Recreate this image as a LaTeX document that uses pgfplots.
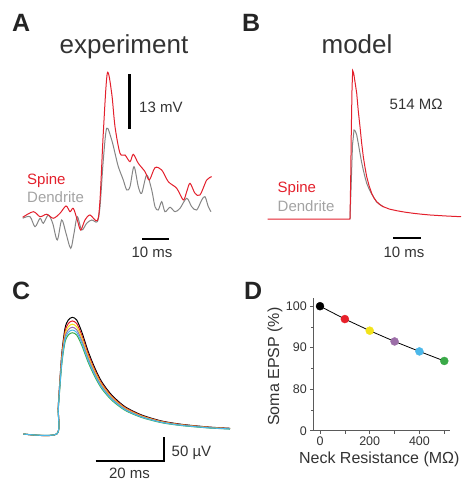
\documentclass[border=0pt]{standalone}
\usepackage{pgfplots}
\pgfplotsset{compat=1.18}
\usepackage{fontspec}
\setmainfont{Liberation Sans}
\definecolor{spinered}{HTML}{E3202C}
\definecolor{dendgray}{HTML}{858585}
\definecolor{labgray}{HTML}{A3A3A3}
\definecolor{axgray}{HTML}{5A5A5A}
\definecolor{txtgray}{HTML}{333333}
\definecolor{cred}{HTML}{E8202A}
\definecolor{cyellow}{HTML}{F2E31A}
\definecolor{cpurple}{HTML}{9C6EA8}
\definecolor{cblue}{HTML}{4BB8EA}
\definecolor{cgreen}{HTML}{3AA948}
\newcommand\fs[1]{\fontsize{#1}{#1}\selectfont}

\begin{document}
\begin{tikzpicture}
\useasboundingbox (0pt,0pt) rectangle (461pt,481pt);

% ---------- A: experiment ----------
\begin{axis}[at={(20pt,221pt)},anchor=south west,scale only axis,
  width=195pt,height=200pt,xmin=0,xmax=72.22,ymin=-10.64,ymax=36.64,
  hide axis,clip=false]
\addplot[dendgray,line width=1pt,smooth,tension=0.5] coordinates {
 (1.0,-0.78)(3.70,-0.40)(5.56,-2.77)(7.41,-0.78)(8.63,-1.96)(10.48,0)
 (12.11,-1.96)(13.81,-5.91)(15.44,-1.18)(17.04,-4.33)(18.78,-7.87)(20.0,-4.33)
 (21.22,-0.40)(22.85,-3.55)(24.70,-1.96)(26.56,-1.18)(28.63,-1.58)(29.63,1.96)
 (30.85,13.0)(32.11,20.50)(33.96,17.73)(35.19,14.59)(36.41,11.42)(38.26,8.27)
 (39.52,5.91)(40.74,6.69)(42.22,11.42)(43.81,6.69)(45.07,5.13)(46.93,9.46)
 (48.78,5.91)(50.0,1.96)(51.22,1.18)(52.48,3.14)(53.70,0.78)(55.56,1.82)
 (57.41,0.78)(59.26,1.58)(61.74,3.95)(63.59,1.96)(65.44,1.18)(67.30,3.55)
 (68.52,4.33)(69.74,1.96)(70.74,0.78)};
\addplot[spinered,line width=1pt,smooth,tension=0.5] coordinates {
 (1.0,-0.54)(4.93,0.78)(7.41,-0.40)(9.89,0.17)(12.33,-0.78)(14.81,0.40)
 (17.04,2.13)(18.52,0.78)(19.74,1.58)(21.22,-1.18)(22.48,-3.55)(24.07,-1.18)
 (25.93,0)(28.63,-1.35)(29.63,3.55)(30.85,19.39)(32.33,33.50)(33.96,28.77)
 (35.19,20.87)(37.04,14.59)(38.89,14.18)(40.74,12.60)(41.96,14.35)(43.81,12.22)
 (46.30,10.24)(47.89,8.27)(50.0,11.18)(52.48,10.64)(54.93,7.87)(58.04,6.31)
 (60.48,3.55)(61.74,5.51)(62.96,7.49)(64.81,5.13)(66.67,4.73)(69.15,8.27)
 (71.0,9.05)};
\draw[black,line width=2.7pt] (axis cs:40.5,20.33) -- (axis cs:40.5,33.33);
\draw[black,line width=2.4pt] (axis cs:45.2,-5.67) -- (axis cs:55.2,-5.67);
\end{axis}

% ---------- B: model ----------
\begin{axis}[at={(230pt,221pt)},anchor=south west,scale only axis,
  width=231pt,height=200pt,xmin=0,xmax=85.56,ymin=-9.69,ymax=37.59,
  hide axis,clip=false]
\addplot[dendgray,line width=1pt] coordinates {
 (44.44,0)(44.81,6.86)(45.37,17.5)(45.93,21.04)(46.4,20.8)(46.93,19.86)
 (47.5,17.9)(48.15,15.53)(48.75,13.4)(49.37,11.58)(50.0,9.9)(50.63,8.44)
 (51.5,7.1)(52.48,5.9)(54.33,4.0)(56.78,2.85)};
\addplot[spinered,line width=1pt] coordinates {
 (13.96,0)(44.44,0)(44.7,9.2)(44.93,21.0)(45.2,31.0)(45.44,35.06)(45.8,34.5)
 (46.3,32.4)(46.93,29.72)(47.5,25.6)(48.15,21.82)(48.75,18.0)(49.37,14.73)
 (50.0,12.2)(50.63,10.0)(51.5,7.9)(52.48,6.08)(53.4,4.9)(54.33,4.09)
 (55.5,3.4)(56.78,2.91)(59.0,2.35)(61.74,1.96)(64.8,1.62)(67.89,1.35)
 (71.0,1.13)(74.07,0.95)(79.8,0.72)(85.56,0.54)};
\draw[black,line width=2.4pt] (axis cs:60.5,-4.56) -- (axis cs:70.6,-4.56);
\end{axis}

% ---------- C: soma EPSPs ----------
\begin{axis}[at={(15pt,11pt)},anchor=south west,scale only axis,
  width=220pt,height=170pt,xmin=0,xmax=64.33,ymin=-73.9,ymax=275.2,
  hide axis,clip=false]
\addplot[black,line width=1pt,smooth,tension=0.45] coordinates {
 (2.43,0)(12.19,0)(12.66,59.5)(13.65,162.2)(14.62,217.0)(15.58,234.1)(16.75,239.6)
 (18.04,234.1)(19.50,210.1)(21.43,169.0)(23.39,134.9)(25.35,107.4)(28.27,80.1)
 (32.16,56.1)(37.05,39.0)(42.89,26.7)(48.74,19.9)(56.52,14.4)(62.87,11.7)};
\addplot[cred,line width=1pt,smooth,tension=0.45] coordinates {
 (2.43,0)(12.19,0)(12.66,57.7)(13.65,157.2)(14.62,210.3)(15.58,226.8)(16.75,232.2)
 (18.04,226.8)(19.50,203.6)(21.43,163.8)(23.39,130.7)(25.35,104.1)(28.27,77.6)
 (32.16,54.4)(37.05,37.8)(42.89,25.9)(48.74,19.3)(56.52,14.0)(62.87,11.3)};
\addplot[cyellow,line width=1pt,smooth,tension=0.45] coordinates {
 (2.43,0)(12.19,0)(12.66,56.0)(13.65,152.6)(14.62,204.2)(15.58,220.3)(16.75,225.5)
 (18.04,220.3)(19.50,197.7)(21.43,159.0)(23.39,126.9)(25.35,101.1)(28.27,75.4)
 (32.16,52.8)(37.05,36.7)(42.89,25.1)(48.74,18.7)(56.52,13.6)(62.87,11.0)};
\addplot[cpurple,line width=1pt,smooth,tension=0.45] coordinates {
 (2.43,0)(12.19,0)(12.66,54.4)(13.65,148.4)(14.62,198.6)(15.58,214.2)(16.75,219.2)
 (18.04,214.2)(19.50,192.2)(21.43,154.6)(23.39,123.4)(25.35,98.3)(28.27,73.3)
 (32.16,51.3)(37.05,35.7)(42.89,24.4)(48.74,18.2)(56.52,13.2)(62.87,10.7)};
\addplot[cgreen,line width=1pt,smooth,tension=0.45] coordinates {
 (2.43,0)(12.19,0)(12.66,51.6)(13.65,140.8)(14.62,188.4)(15.58,203.2)(16.75,208.0)
 (18.04,203.2)(19.50,182.4)(21.43,146.7)(23.39,117.1)(25.35,93.2)(28.27,69.5)
 (32.16,48.7)(37.05,33.9)(42.89,23.2)(48.74,17.3)(56.52,12.5)(62.87,10.2)};
\addplot[cblue,line width=1pt,smooth,tension=0.45] coordinates {
 (2.43,0)(12.19,0)(12.66,53.0)(13.65,144.5)(14.62,193.3)(15.58,208.6)(16.75,213.5)
 (18.04,208.6)(19.50,187.2)(21.43,150.6)(23.39,120.2)(25.35,95.7)(28.27,71.4)
 (32.16,50.0)(37.05,34.7)(42.89,23.8)(48.74,17.7)(56.52,12.8)(62.87,10.4)};
\draw[black,line width=1.3pt] (axis cs:23.6,-55.4) -- (axis cs:43.57,-55.4) -- (axis cs:43.57,-5.4);
\end{axis}

% ---------- D: soma EPSP vs neck resistance ----------
\begin{axis}[at={(313.3pt,50.3pt)},anchor=south west,scale only axis,
  width=136.7pt,height=132.4pt,xmin=-27,xmax=523,ymin=70,ymax=101.9,
  axis lines=left,axis line style={axgray,line width=0.8pt,-},
  xtick={0,100,200,300,400,500},xticklabels={0,,200,,400,},
  ytick={70,80,90,100},yticklabels={0,80,90,100},minor ytick={75,85,95},
  tick align=outside,major tick length=3pt,minor tick length=2pt,
  tick style={axgray,line width=0.7pt},
  /pgf/number format/assume math mode=true,
  ticklabel style={font=\fs{12.5},text=txtgray},
  xlabel={Neck Resistance (MΩ)},ylabel={Soma EPSP (\%)},
  label style={font=\fs{16},text=txtgray},
  xlabel style={at={(axis description cs:0.483,-0.216)},anchor=center},
  ylabel style={at={(axis description cs:-0.280,0.483)},anchor=center},
  clip=false]
\addplot[black,line width=0.8pt] coordinates {
 (0,100)(100,96.9)(200,94.1)(300,91.5)(400,89.1)(500,86.8)};
\addplot[only marks,mark=*,mark size=4pt,black] coordinates {(0,100)};
\addplot[only marks,mark=*,mark size=4pt,draw=cred,fill=cred] coordinates {(100,96.9)};
\addplot[only marks,mark=*,mark size=4pt,draw=cyellow,fill=cyellow] coordinates {(200,94.1)};
\addplot[only marks,mark=*,mark size=4pt,draw=cpurple,fill=cpurple] coordinates {(300,91.5)};
\addplot[only marks,mark=*,mark size=4pt,draw=cblue,fill=cblue] coordinates {(400,89.1)};
\addplot[only marks,mark=*,mark size=4pt,draw=cgreen,fill=cgreen] coordinates {(500,86.8)};
\end{axis}

% ---------- texts ----------
\node[anchor=base west,inner sep=0,font=\fs{25}\bfseries,text=txtgray!70!black] at (12pt,449.3pt) {A};
\node[anchor=base west,inner sep=0,font=\fs{25}\bfseries,text=txtgray!70!black] at (242pt,449.3pt) {B};
\node[anchor=base west,inner sep=0,font=\fs{25}\bfseries,text=txtgray!70!black] at (12pt,181pt) {C};
\node[anchor=base west,inner sep=0,font=\fs{25}\bfseries,text=txtgray!70!black] at (244pt,181pt) {D};
\node[anchor=base,inner sep=0,font=\fs{26},text=txtgray] at (124pt,427.7pt) {experiment};
\node[anchor=base,inner sep=0,font=\fs{26},text=txtgray] at (357pt,427.7pt) {model};
\node[anchor=base west,inner sep=0,font=\fs{15},text=spinered] at (27pt,296.7pt) {Spine};
\node[anchor=base west,inner sep=0,font=\fs{15},text=labgray] at (27pt,278.7pt) {Dendrite};
\node[anchor=base west,inner sep=0,font=\fs{15},text=spinered] at (277.5pt,288pt) {Spine};
\node[anchor=base west,inner sep=0,font=\fs{15},text=labgray] at (277.5pt,269.5pt) {Dendrite};
\node[anchor=base west,inner sep=0,font=\fs{15},text=txtgray] at (139pt,368.7pt) {13 mV};
\node[anchor=base,inner sep=0,font=\fs{15},text=txtgray] at (152pt,223.5pt) {10 ms};
\node[anchor=base,inner sep=0,font=\fs{15},text=txtgray] at (404pt,223.5pt) {10 ms};
\node[anchor=base west,inner sep=0,font=\fs{15},text=txtgray] at (389.5pt,371pt) {514 MΩ};
\node[anchor=base west,inner sep=0,font=\fs{15},text=txtgray] at (171.5pt,24.3pt) {50 µV};
\node[anchor=base,inner sep=0,font=\fs{15},text=txtgray] at (129.5pt,2.5pt) {20 ms};
\end{tikzpicture}
\end{document}
